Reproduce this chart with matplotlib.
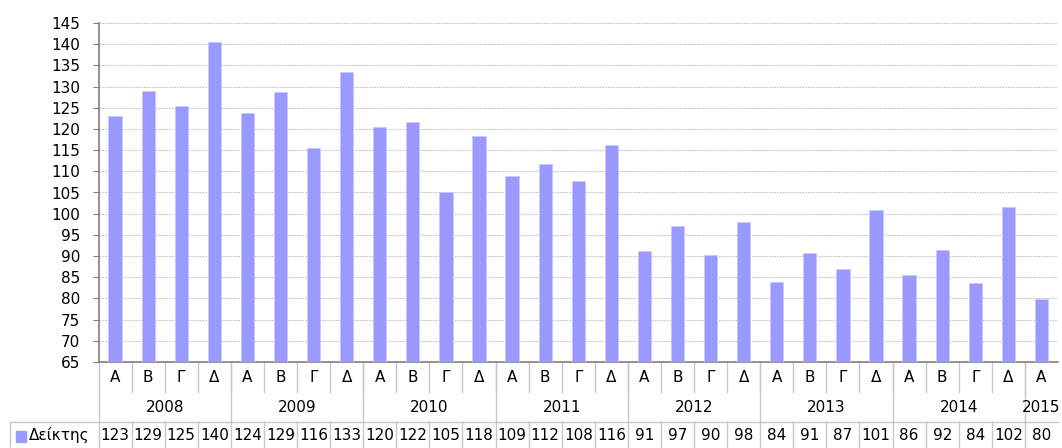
import matplotlib.pyplot as plt
import matplotlib.transforms as mtransforms
from matplotlib.patches import Rectangle
import numpy as np

# quarterly index 2008 Q1 .. 2015 Q1
years = ['2008', '2009', '2010', '2011', '2012', '2013', '2014', '2015']
quarters = ['Α', 'Β', 'Γ', 'Δ']
values = [123.1, 129.0, 125.5, 140.4, 123.8, 128.8, 115.6, 133.4,
          120.5, 121.7, 105.0, 118.3, 108.9, 111.7, 107.8, 116.2,
          91.2, 97.2, 90.3, 98.1, 83.8, 90.8, 86.9, 100.9,
          85.6, 91.5, 83.6, 101.6, 79.8]
table_labels = [123, 129, 125, 140, 124, 129, 116, 133, 120, 122, 105, 118,
                109, 112, 108, 116, 91, 97, 90, 98, 84, 91, 87, 101,
                86, 92, 84, 102, 80]
series_name = 'Δείκτης'

bar_color = '#9999ff'
sep_color = '#c8c8c8'
fs = 11

W, H = 1062, 448
fig = plt.figure(figsize=(W / 100, H / 100), dpi=100)
ax = fig.add_axes([98.5 / W, (H - 362) / H, (1058 - 98.5) / W, (362 - 23) / H])

n = len(values)
x = np.arange(n)
ax.bar(x, np.array(values) - 65, 0.4, bottom=65, color=bar_color,
       edgecolor='#c8c8ff', linewidth=0.6, zorder=3)

ax.set_xlim(-0.5, n - 0.5)
ax.set_ylim(65, 145)
ax.set_yticks(np.arange(65, 146, 5))
ax.set_xticks([])
ax.tick_params(axis='y', labelsize=fs, length=4, color='#808080', pad=9)
ax.yaxis.grid(True, linestyle=(0, (1.5, 1)), color='#c4c4c4', linewidth=0.8)
ax.set_axisbelow(True)
for s in ['top', 'right']:
    ax.spines[s].set_visible(False)
for s in ['left', 'bottom']:
    ax.spines[s].set_color('#808080')
    ax.spines[s].set_linewidth(1.2)

# category table below the axes
tr = mtransforms.blended_transform_factory(ax.transData, fig.transFigure)
y_ax = (H - 362) / H
y_cat = (H - 392) / H
y_tab = (H - 422) / H


def vline(xv, y0, y1):
    ax.plot([xv, xv], [y0, y1], color=sep_color, lw=1, transform=tr, clip_on=False)


for i in range(n):
    q = quarters[i % 4]
    ax.text(i, (y_ax + y_cat) / 2, q, transform=tr, ha='center', va='center', fontsize=fs)
    ax.text(i, y_tab / 2, str(table_labels[i]), transform=tr, ha='center', va='center',
            fontsize=fs)
    if i > 0:
        vline(i - 0.5, y_cat, y_ax)
        vline(i - 0.5, 0, y_tab)

for k, yr in enumerate(years):
    start = k * 4
    end = min(start + 4, n)
    ax.text((start + end - 1) / 2, (y_cat + y_tab) / 2, yr, transform=tr,
            ha='center', va='center', fontsize=fs)
    if k > 0:
        vline(start - 0.5, y_tab, y_ax)

vline(-0.5, 0, y_ax)
x_left = -0.5 - (98.5 - 10) / 33.1
ax.plot([x_left, n - 0.5], [y_tab, y_tab], color=sep_color, lw=1, transform=tr, clip_on=False)
vline(x_left, 0, y_tab)

fig.patches.append(Rectangle((16 / W, (H - 442) / H), 10 / W, 11 / H,
                             transform=fig.transFigure, color=bar_color))
fig.text(29 / W, y_tab / 2, series_name, ha='left', va='center', fontsize=fs)

fig.savefig('out.png', dpi=100)
